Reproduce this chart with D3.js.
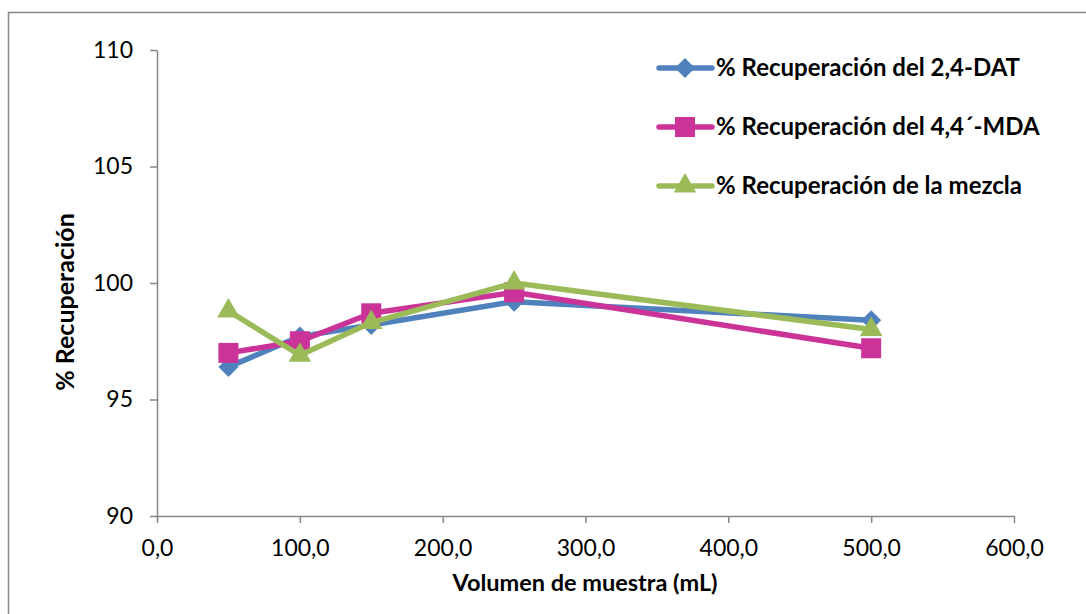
<!DOCTYPE html>
<html>
<head>
<meta charset="utf-8">
<script src="https://cdn.jsdelivr.net/npm/d3@7"></script>
<style>
  body { margin: 0; background: #fff; }
  svg { display: block; font-family: Lato, "Open Sans", sans-serif; }
</style>
</head>
<body>
<svg id="chart" width="1086" height="614"></svg>
<script>
const volumes = [50, 100, 150, 250, 500];
const seriesNames = [
    "% Recuperación del 2,4-DAT",
    "% Recuperación del 4,4´-MDA",
    "% Recuperación de la mezcla"
];
const dat24 = [96.4, 97.7, 98.2, 99.2, 98.4];
const mda44 = [97.0, 97.5, 98.7, 99.6, 97.2];
const mezcla = [98.8, 96.9, 98.3, 100.0, 98.0];
const xTicks = [0, 100, 200, 300, 400, 500, 600];
const yTicks = [90, 95, 100, 105, 110];

const colors = ["#4F81BD", "#CC3399", "#9BBB59"];

// marker drawers: diamond = rotated square, square, triangle
function marker(g, s, x, y) {
    if (s === 0) {
        g.append("path")
            .attr("d", d3.symbol().type(d3.symbolSquare).size(200)())
            .attr("transform", `translate(${x},${y}) rotate(45)`)
            .attr("fill", colors[s]);
    } else if (s === 1) {
        g.append("path")
            .attr("d", d3.symbol().type(d3.symbolSquare).size(400)())
            .attr("transform", `translate(${x},${y})`)
            .attr("fill", colors[s]);
    } else {
        g.append("path")
            .attr("d", d3.symbol().type(d3.symbolTriangle).size(220)())
            .attr("transform", `translate(${x},${y})`)
            .attr("fill", colors[s]);
    }
}

let svg = d3.select("#chart");

// outer frame (runs off the right and bottom edges)
svg.append("rect")
    .attr("x", 8.5).attr("y", 12.5)
    .attr("width", 1200).attr("height", 700)
    .attr("fill", "none").attr("stroke", "#888").attr("stroke-width", 1.5);

let scaleX = d3.scaleLinear().domain([0, 600]).range([157, 1014]);
let scaleY = d3.scaleLinear().domain([90, 110]).range([516, 50]);

let xAxis = svg.append("g")
    .attr("transform", "translate(0,516)")
    .call(d3.axisBottom(scaleX).tickValues(xTicks).tickSize(7).tickSizeOuter(0)
        .tickFormat(d => d3.format(".1f")(d).replace(".", ",")));
let yAxis = svg.append("g")
    .attr("transform", "translate(157,0)")
    .call(d3.axisLeft(scaleY).tickValues(yTicks).tickSize(7).tickSizeOuter(0));

[xAxis, yAxis].forEach(ax => {
    ax.select(".domain").attr("stroke", "#878787").attr("stroke-width", 1.5);
    ax.selectAll(".tick line").attr("stroke", "#878787").attr("stroke-width", 1.5);
    ax.selectAll(".tick text")
        .attr("fill", "#000")
        .attr("font-size", "23px")
        .attr("font-family", "Lato, 'Open Sans', sans-serif");
});
xAxis.selectAll(".tick text").attr("y", 24);
yAxis.selectAll(".tick text").attr("x", -24);

// axis titles
svg.append("text")
    .attr("x", 585).attr("y", 591)
    .attr("text-anchor", "middle")
    .attr("font-size", "23.5px").attr("font-weight", "bold")
    .text("Volumen de muestra (mL)");
svg.append("text")
    .attr("transform", "translate(74,302) rotate(-90)")
    .attr("text-anchor", "middle")
    .attr("font-size", "25px").attr("font-weight", "bold")
    .text("% Recuperación");

let allSeries = [dat24, mda44, mezcla];

let line = d3.line()
    .x((d, i) => scaleX(volumes[i]))
    .y(d => scaleY(d));

allSeries.forEach((vals, s) => {
    svg.append("path")
        .datum(vals)
        .attr("fill", "none")
        .attr("stroke", colors[s])
        .attr("stroke-width", 5.5)
        .attr("stroke-linejoin", "round")
        .attr("d", line);
    vals.forEach((v, i) => marker(svg, s, scaleX(volumes[i]), scaleY(v)));
});

// legend
seriesNames.forEach((name, s) => {
    let ly = 68 + s * 59;
    svg.append("line")
        .attr("x1", 659).attr("x2", 712)
        .attr("y1", ly).attr("y2", ly)
        .attr("stroke", colors[s]).attr("stroke-width", 5.5)
        .attr("stroke-linecap", "round");
    marker(svg, s, 685, ly);
    svg.append("text")
        .attr("x", 716).attr("y", ly + 8)
        .attr("font-size", "24px").attr("font-weight", "bold")
        .text(name);
});
</script>
</body>
</html>
